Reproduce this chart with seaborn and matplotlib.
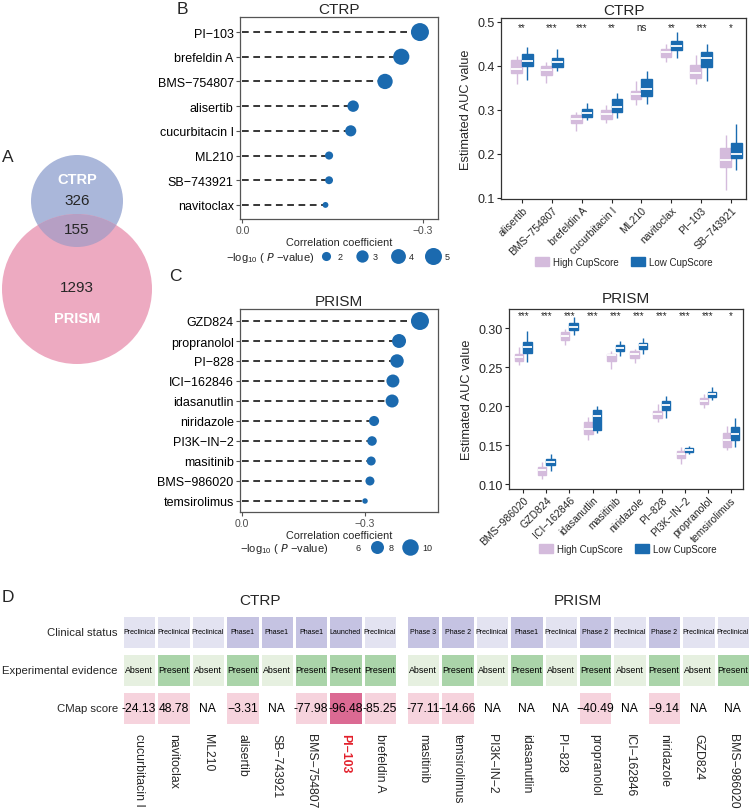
import numpy as np
import pandas as pd
import matplotlib
matplotlib.use("Agg")
import matplotlib.pyplot as plt
import seaborn as sns
from matplotlib.colors import ListedColormap
from matplotlib.patches import Circle, Patch
from matplotlib.lines import Line2D

# ----------------------------- DATA -----------------------------
venn_sets = ["CTRP", "PRISM"]
venn_counts = [326, 155, 1293]  # CTRP only, shared, PRISM only

ctrp_drugs = ["PI−103", "brefeldin A", "BMS−754807", "alisertib", "cucurbitacin I",
              "ML210", "SB−743921", "navitoclax"]
ctrp_corr = [-0.295, -0.264, -0.237, -0.184, -0.180, -0.144, -0.144, -0.138]
ctrp_logp = [5.5, 4.6, 4.2, 2.7, 2.6, 1.75, 1.7, 1.3]
ctrp_size_breaks = [2, 3, 4, 5]

prism_drugs = ["GZD824", "propranolol", "PI−828", "ICI−162846", "idasanutlin",
               "niridazole", "PI3K−IN−2", "masitinib", "BMS−986020", "temsirolimus"]
prism_corr = [-0.434, -0.383, -0.378, -0.368, -0.366, -0.322, -0.317, -0.315, -0.312, -0.300]
prism_logp = [11.0, 8.5, 8.25, 8.0, 8.0, 6.7, 6.5, 6.3, 6.3, 5.3]
prism_size_breaks = [6, 8, 10]

groups = ["High CupScore", "Low CupScore"]

# box summaries: (lower whisker, Q1, median, Q3, upper whisker)
ctrp_box_drugs = ["alisertib", "BMS−754807", "brefeldin A", "cucurbitacin I",
                  "ML210", "navitoclax", "PI−103", "SB−743921"]
ctrp_high = [(0.360, 0.383, 0.392, 0.413, 0.423),
             (0.361, 0.379, 0.390, 0.400, 0.409),
             (0.252, 0.271, 0.279, 0.288, 0.295),
             (0.271, 0.279, 0.290, 0.299, 0.312),
             (0.311, 0.326, 0.336, 0.343, 0.366),
             (0.409, 0.420, 0.432, 0.439, 0.451),
             (0.358, 0.373, 0.385, 0.403, 0.424),
             (0.119, 0.170, 0.186, 0.214, 0.244)]
ctrp_low = [(0.367, 0.399, 0.412, 0.428, 0.443),
            (0.388, 0.398, 0.408, 0.418, 0.438),
            (0.277, 0.284, 0.293, 0.302, 0.316),
            (0.282, 0.295, 0.307, 0.324, 0.339),
            (0.314, 0.331, 0.347, 0.371, 0.388),
            (0.418, 0.436, 0.445, 0.457, 0.477),
            (0.366, 0.398, 0.418, 0.432, 0.449),
            (0.163, 0.191, 0.201, 0.226, 0.267)]
ctrp_sig = ["**", "***", "***", "**", "ns", "**", "***", "*"]

prism_box_drugs = ["BMS−986020", "GZD824", "ICI−162846", "idasanutlin", "masitinib",
                   "niridazole", "PI−828", "PI3K−IN−2", "propranolol", "temsirolimus"]
prism_high = [(0.252, 0.258, 0.263, 0.267, 0.276),
              (0.106, 0.112, 0.118, 0.122, 0.128),
              (0.278, 0.285, 0.290, 0.295, 0.299),
              (0.156, 0.164, 0.171, 0.179, 0.186),
              (0.248, 0.258, 0.265, 0.267, 0.271),
              (0.255, 0.261, 0.267, 0.270, 0.273),
              (0.179, 0.184, 0.190, 0.193, 0.202),
              (0.126, 0.133, 0.138, 0.142, 0.148),
              (0.197, 0.203, 0.207, 0.210, 0.216),
              (0.143, 0.148, 0.156, 0.166, 0.174)]
prism_low = [(0.256, 0.268, 0.276, 0.282, 0.296),
             (0.117, 0.124, 0.128, 0.132, 0.138),
             (0.291, 0.297, 0.301, 0.306, 0.314),
             (0.165, 0.169, 0.187, 0.195, 0.200),
             (0.264, 0.270, 0.274, 0.278, 0.283),
             (0.267, 0.273, 0.278, 0.281, 0.287),
             (0.185, 0.195, 0.201, 0.206, 0.213),
             (0.139, 0.141, 0.144, 0.146, 0.149),
             (0.208, 0.211, 0.215, 0.218, 0.224),
             (0.148, 0.157, 0.164, 0.173, 0.184)]
prism_sig = ["***"] * 9 + ["*"]

status_levels = ["Preclinical", "Phase1", "Phase 2", "Phase 3", "Launched"]
evidence_levels = ["Absent", "Present"]

hm_ctrp_drugs = ["cucurbitacin I", "navitoclax", "ML210", "alisertib", "SB−743921",
                 "BMS−754807", "PI−103", "brefeldin A"]
hm_ctrp_status = ["Preclinical", "Preclinical", "Preclinical", "Phase1", "Phase1",
                  "Phase1", "Launched", "Preclinical"]
hm_ctrp_evidence = ["Absent", "Present", "Absent", "Present", "Absent",
                    "Present", "Present", "Present"]
hm_ctrp_cmap = [-24.13, 48.78, np.nan, -3.31, np.nan, -77.98, -96.48, -85.25]
hm_ctrp_cmap_text = ["-24.13", "48.78", "NA", "−3.31", "NA", "-77.98", "-96.48", "-85.25"]

hm_prism_drugs = ["masitinib", "temsirolimus", "PI3K−IN−2", "idasanutlin", "PI−828",
                  "propranolol", "ICI−162846", "niridazole", "GZD824", "BMS−986020"]
hm_prism_status = ["Phase 3", "Phase 2", "Preclinical", "Phase1", "Preclinical",
                   "Phase 2", "Preclinical", "Phase 2", "Preclinical", "Preclinical"]
hm_prism_evidence = ["Absent", "Present", "Absent", "Present", "Absent",
                     "Present", "Absent", "Present", "Absent", "Present"]
hm_prism_cmap = [-77.11, -14.66, np.nan, np.nan, np.nan, -40.49, np.nan, -9.14, np.nan, np.nan]
hm_prism_cmap_text = ["-77.11", "−14.66", "NA", "NA", "NA", "−40.49", "NA", "−9.14", "NA", "NA"]
highlight_drug = "PI−103"

# ----------------------------- STYLE -----------------------------
sns.set_style("white")
plt.rcParams["font.family"] = ["Liberation Sans", "DejaVu Sans"]
plt.rcParams["mathtext.default"] = "regular"

BLUE = "#1B6AAF"
C_HIGH = "#D4BBDC"
C_LOW = "#1A6BB0"
SPINE = "#555555"

W, H = 753, 812
fig = plt.figure(figsize=(W / 100, H / 100), dpi=100)


def rect(x0, y0, x1, y1):
    return [x0 / W, 1 - y1 / H, (x1 - x0) / W, (y1 - y0) / H]


def fx(x):
    return x / W


def fy(y):
    return 1 - y / H


# ----------------------------- LOLLIPOPS -----------------------------
def size_of(v, norm, sizes):
    return sizes[0] + (v - norm[0]) / (norm[1] - norm[0]) * (sizes[1] - sizes[0])


def lollipop(box, drugs, corr, logp, norm, sizes, xlim, pads, title):
    ax = fig.add_axes(rect(*box))
    df = pd.DataFrame({"drug": drugs, "corr": corr, "logp": logp})
    sns.scatterplot(data=df, x="corr", y="drug", size="logp", sizes=sizes,
                    size_norm=norm, color=BLUE, edgecolor="none", linewidth=0,
                    legend=False, ax=ax, zorder=3)
    ax.hlines(y=drugs, xmin=0, xmax=corr, colors="black",
              linestyles=(0, (4.4, 3.0)), linewidth=1.1, zorder=2)
    n = len(drugs)
    ax.set_ylim(n - 1 + pads[1], -pads[0])
    ax.set_xlim(*xlim)
    ax.set_xticks([0.0, -0.3])
    ax.set_xticklabels(["0.0", "−0.3"])
    ax.tick_params(axis="x", bottom=True, length=3, width=0.8, color=SPINE,
                   labelsize=7.5, labelcolor="#4d4d4d", pad=1.5)
    ax.tick_params(axis="y", left=True, length=3, width=0.8, color=SPINE,
                   labelsize=9, labelcolor="black", pad=1.5)
    for s in ax.spines.values():
        s.set_color(SPINE)
        s.set_linewidth(0.9)
    ax.set_ylabel("")
    ax.set_xlabel("Correlation coefficient", fontsize=7.8, labelpad=1.5)
    ax.set_title(title, fontsize=11, pad=3)
    return ax


ax_l1 = lollipop((240, 18, 438, 220), ctrp_drugs, ctrp_corr, ctrp_logp,
                 (1.2, 5.5), (14.4, 168), (0.004, -0.325), (0.61, 0.57), "CTRP")
ax_l2 = lollipop((240, 310, 438, 513), prism_drugs, prism_corr, prism_logp,
                 (5.3, 11.0), (15.5, 167.7), (0.005, -0.478), (0.6, 0.55), "PRISM")

# size legends
lab = "−log$_{10}$ ( $\\it{P}$ −value)"
fig.text(fx(226), fy(258), lab, fontsize=8, va="center", ha="left")
h1 = [Line2D([], [], marker="o", ls="", color=BLUE, markeredgewidth=0,
             markersize=np.sqrt(size_of(v, (1.2, 5.5), (14.4, 168)))) for v in ctrp_size_breaks]
fig.legend(h1, [str(v) for v in ctrp_size_breaks], loc="center left",
           bbox_to_anchor=(fx(318), fy(258)), ncol=4, frameon=False,
           fontsize=6.5, handlelength=1.8, handletextpad=0.35,
           columnspacing=1.25, borderpad=0, borderaxespad=0)

fig.text(fx(240), fy(549), lab, fontsize=8, va="center", ha="left")
h2 = []
for v in prism_size_breaks:
    h2.append(Line2D([], [], marker="o", ls="", color=BLUE, markeredgewidth=0,
                     alpha=(0 if v == prism_size_breaks[0] else 1),
                     markersize=np.sqrt(size_of(v, (5.3, 11.0), (15.5, 167.7)))))
fig.legend(h2, [str(v) for v in prism_size_breaks], loc="center left",
           bbox_to_anchor=(fx(334), fy(549)), ncol=3, frameon=False,
           fontsize=6.5, handlelength=2.0, handletextpad=0.35,
           columnspacing=0.8, borderpad=0, borderaxespad=0)


# ----------------------------- BOXPLOTS -----------------------------
def boxpanel(box, drugs, high, low, sig, ylim, yticks, ytl, sig_y, xlim, title, legend_xy, title_pad):
    ax = fig.add_axes(rect(*box))
    rows = []
    for d, hs, ls in zip(drugs, high, low):
        for v in hs:
            rows.append((d, groups[0], v))
        for v in ls:
            rows.append((d, groups[1], v))
    df = pd.DataFrame(rows, columns=["drug", "group", "auc"])
    pal = {groups[0]: C_HIGH, groups[1]: C_LOW}
    for g in groups:
        sns.boxplot(data=df[df.group == g], x="drug", y="auc", hue="group",
                    order=drugs, hue_order=groups, palette=pal, dodge=True,
                    width=0.72, gap=0, whis=(0, 100), linecolor=pal[g],
                    linewidth=1.0, saturation=1, showfliers=False,
                    medianprops={"color": "white", "linewidth": 1.3},
                    capprops={"linewidth": 0}, legend=False, ax=ax)
    ax.set_xlim(*xlim)
    ax.set_ylim(*ylim)
    ax.set_yticks(yticks)
    ax.set_yticklabels(ytl)
    ax.set_xlabel("")
    ax.set_ylabel("Estimated AUC value", fontsize=9.2, labelpad=4)
    ax.tick_params(axis="y", left=True, length=3, width=0.8, labelsize=9, pad=1.5)
    ax.tick_params(axis="x", bottom=True, length=3, width=0.8, labelsize=7.5, pad=1)
    for t in ax.get_xticklabels():
        t.set_rotation(45)
        t.set_ha("right")
        t.set_rotation_mode("anchor")
    for s in ax.spines.values():
        s.set_color("#333333")
        s.set_linewidth(0.9)
    for i, s in enumerate(sig):
        ax.text(i, sig_y, s, ha="center", va="center", fontsize=7)
    ax.set_title(title, fontsize=11, pad=title_pad)
    handles = [Patch(facecolor=pal[g], edgecolor=pal[g]) for g in groups]
    fig.legend(handles, groups, loc="center", bbox_to_anchor=(fx(legend_xy[0]), fy(legend_xy[1])),
               ncol=2, frameon=False, fontsize=7, handlelength=1.4, handleheight=1.1,
               handletextpad=0.5, columnspacing=1.2, borderpad=0)
    return ax


boxpanel((501, 19, 746, 200), ctrp_box_drugs, ctrp_high, ctrp_low, ctrp_sig,
         (0.0977, 0.509), [0.1, 0.2, 0.3, 0.4, 0.5], ["0.1", "0.2", "0.3", "0.4", "0.5"],
         0.488, (-0.7, 7.5), "CTRP", (624, 263), 3)
boxpanel((509, 310, 743, 490), prism_box_drugs, prism_high, prism_low, prism_sig,
         (0.0936, 0.3244), [0.10, 0.15, 0.20, 0.25, 0.30],
         ["0.10", "0.15", "0.20", "0.25", "0.30"],
         0.3165, (-0.62, 9.52), "PRISM", (628, 550), 5)


# ----------------------------- HEATMAP PANEL D -----------------------------
STATUS_COLORS = ["#E3E3F1", "#C5C3E2", "#C5C3E2", "#C5C3E2", "#C5C3E2"]
EVID_COLORS = ["#E6F0E0", "#AAD4A9"]
CMAP_COLORS = ["#FFFFFF", "#F6D3DD", "#DB6A93"]


def hm_row(x0, x1, y0, y1, codes, colors, annots, fs, xlabels=None, ylabel=None):
    ax = fig.add_axes(rect(x0, y0, x1, y1))
    sns.heatmap(np.array([codes], dtype=float), ax=ax, cmap=ListedColormap(colors),
                vmin=-0.5, vmax=len(colors) - 0.5, cbar=False,
                annot=np.array([annots], dtype=object), fmt="",
                annot_kws={"fontsize": fs, "color": "black"},
                linewidths=1, linecolor="white",
                xticklabels=xlabels if xlabels is not None else False,
                yticklabels=[ylabel] if ylabel is not None else False)
    ax.tick_params(length=0)
    if ylabel is not None:
        for t in ax.get_yticklabels():
            t.set_rotation(0)
            t.set_fontsize(8.2)
        ax.tick_params(axis="y", pad=3)
    if xlabels is not None:
        ax.tick_params(axis="x", pad=6)
        for t in ax.get_xticklabels():
            t.set_rotation(270)
            t.set_va("top")
            t.set_ha("center")
            t.set_fontsize(8.8)
            if t.get_text() == highlight_drug:
                t.set_color("#E3202B")
                t.set_fontweight("bold")
    return ax


def cmap_codes(vals):
    v = np.array(vals, dtype=float)
    return np.where(np.isnan(v), 0, np.where(v < -90, 2, 1))


row_y = [(616, 650), (654, 688), (692, 726)]
blocks = [
    (122, 397, hm_ctrp_drugs, hm_ctrp_status, hm_ctrp_evidence, hm_ctrp_cmap, hm_ctrp_cmap_text, True),
    (406, 750, hm_prism_drugs, hm_prism_status, hm_prism_evidence, hm_prism_cmap, hm_prism_cmap_text, False),
]
for x0, x1, drugs, status, evid, cm, cmt, first in blocks:
    hm_row(x0, x1, *row_y[0], [status_levels.index(s) for s in status], STATUS_COLORS,
           status, 5.0, ylabel="Clinical status" if first else None)
    hm_row(x0, x1, *row_y[1], [evidence_levels.index(e) for e in evid], EVID_COLORS,
           evid, 6.4, ylabel="Experimental evidence" if first else None)
    hm_row(x0, x1, *row_y[2], cmap_codes(cm), CMAP_COLORS, cmt, 8.7,
           xlabels=drugs, ylabel="CMap score" if first else None)

fig.text(fx(259.5), fy(601), "CTRP", fontsize=11, ha="center", va="center")
fig.text(fx(578), fy(601), "PRISM", fontsize=11, ha="center", va="center")

# ----------------------------- VENN + LETTERS -----------------------------
ov = fig.add_axes([0, 0, 1, 1])
ov.set_xlim(0, W)
ov.set_ylim(H, 0)
ov.axis("off")
c_ctrp = Circle((77, 202), 46, facecolor="#AAB7DA", edgecolor="none", zorder=1)
c_prism = Circle((77, 290), 75, facecolor="#EDAAC1", edgecolor="none", zorder=1)
ov.add_patch(c_ctrp)
ov.add_patch(c_prism)
c_both = Circle((77, 202), 46, facecolor="#B69FC4", edgecolor="none", zorder=2)
ov.add_patch(c_both)
c_both.set_clip_path(c_prism)
ov.text(77, 180, venn_sets[0], color="white", fontsize=10.5, fontweight="bold", ha="center", va="center")
ov.text(77, 201, str(venn_counts[0]), fontsize=11, ha="center", va="center")
ov.text(77, 230, str(venn_counts[1]), fontsize=11, ha="center", va="center")
ov.text(77, 288, str(venn_counts[2]), fontsize=11, ha="center", va="center")
ov.text(77, 319, venn_sets[1], color="white", fontsize=10.5, fontweight="bold", ha="center", va="center")

for letter, (x, y) in zip("ABCD", [(8, 157), (182, 9), (175, 277), (8, 598)]):
    ov.text(x, y, letter, fontsize=12.5, ha="center", va="center")

fig.savefig("out.png", dpi=100)
